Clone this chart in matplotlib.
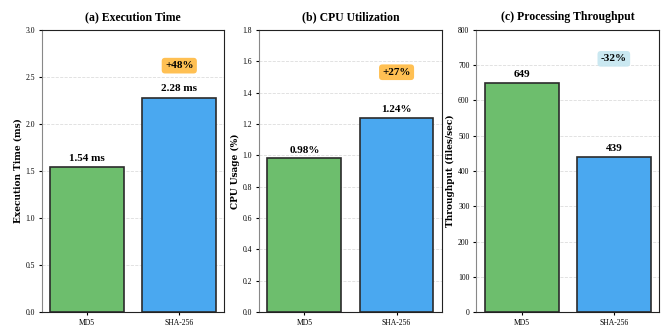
import numpy as np
import matplotlib
matplotlib.use('Agg')
import matplotlib.pyplot as plt

plt.rcParams['font.family'] = ['Liberation Serif', 'DejaVu Serif']

# data
algorithms = ['MD5', 'SHA-256']
exec_time = [1.54, 2.28]
cpu_usage = [0.98, 1.24]
throughput = [649, 439]

titles = ['(a) Execution Time', '(b) CPU Utilization', '(c) Processing Throughput']
ylabels = ['Execution Time (ms)', 'CPU Usage (%)', 'Throughput (files/sec)']
value_fmt = ['{:.2f} ms', '{:.2f}%', '{:.0f}']
ylims = [3.0, 1.8, 800]
yticks = [np.arange(0, 3.01, 0.5), np.arange(0, 1.81, 0.2), np.arange(0, 801, 100)]
tick_fmt = ['{:.1f}', '{:.1f}', '{:.0f}']
badges = ['+48%', '+27%', '-32%']
badge_y = [2.62, 1.53, 718]
badge_colors = ['#ffb940', '#ffb940', '#c5e6f0']
offsets = [0.05, 0.025, 12]

bar_colors = ['#6dbe6d', '#4aa8f0']

fig, axes = plt.subplots(1, 3, figsize=(6.65, 3.36), dpi=100)
fig.subplots_adjust(left=0.063, right=0.991, top=0.911, bottom=0.071, wspace=0.19)

data = [exec_time, cpu_usage, throughput]
for i, ax in enumerate(axes):
    vals = data[i]
    ax.bar(range(2), vals, width=0.8, color=bar_colors, edgecolor='#2b2b2b', linewidth=1.2, zorder=3)
    for x, v in enumerate(vals):
        ax.text(x, v + offsets[i], value_fmt[i].format(v), ha='center', va='bottom',
                fontsize=8, fontweight='bold')
    ax.text(1, badge_y[i], badges[i], ha='center', va='center', fontsize=8, fontweight='bold',
            bbox=dict(boxstyle='round,pad=0.3', facecolor=badge_colors[i], edgecolor='none', alpha=0.9))
    ax.set_ylim(0, ylims[i])
    ax.set_yticks(yticks[i])
    ax.set_yticklabels([tick_fmt[i].format(t) for t in yticks[i]])
    ax.set_xticks(range(2))
    ax.set_xticklabels(algorithms)
    ax.tick_params(labelsize=5.5, length=2.5, pad=2.5)
    ax.set_title(titles[i], fontsize=8.5, fontweight='bold', pad=7, y=1.0)
    ax.set_ylabel(ylabels[i], fontsize=6.5, fontweight='bold', family='DejaVu Serif', labelpad=2)
    ax.grid(axis='y', linestyle='--', color='#dddddd', linewidth=0.6, zorder=0)
    ax.spines['left'].set_color('#888888')
    for s in ['top', 'right', 'bottom']:
        ax.spines[s].set_color('#222222')

fig.savefig('out.png', dpi=100)
